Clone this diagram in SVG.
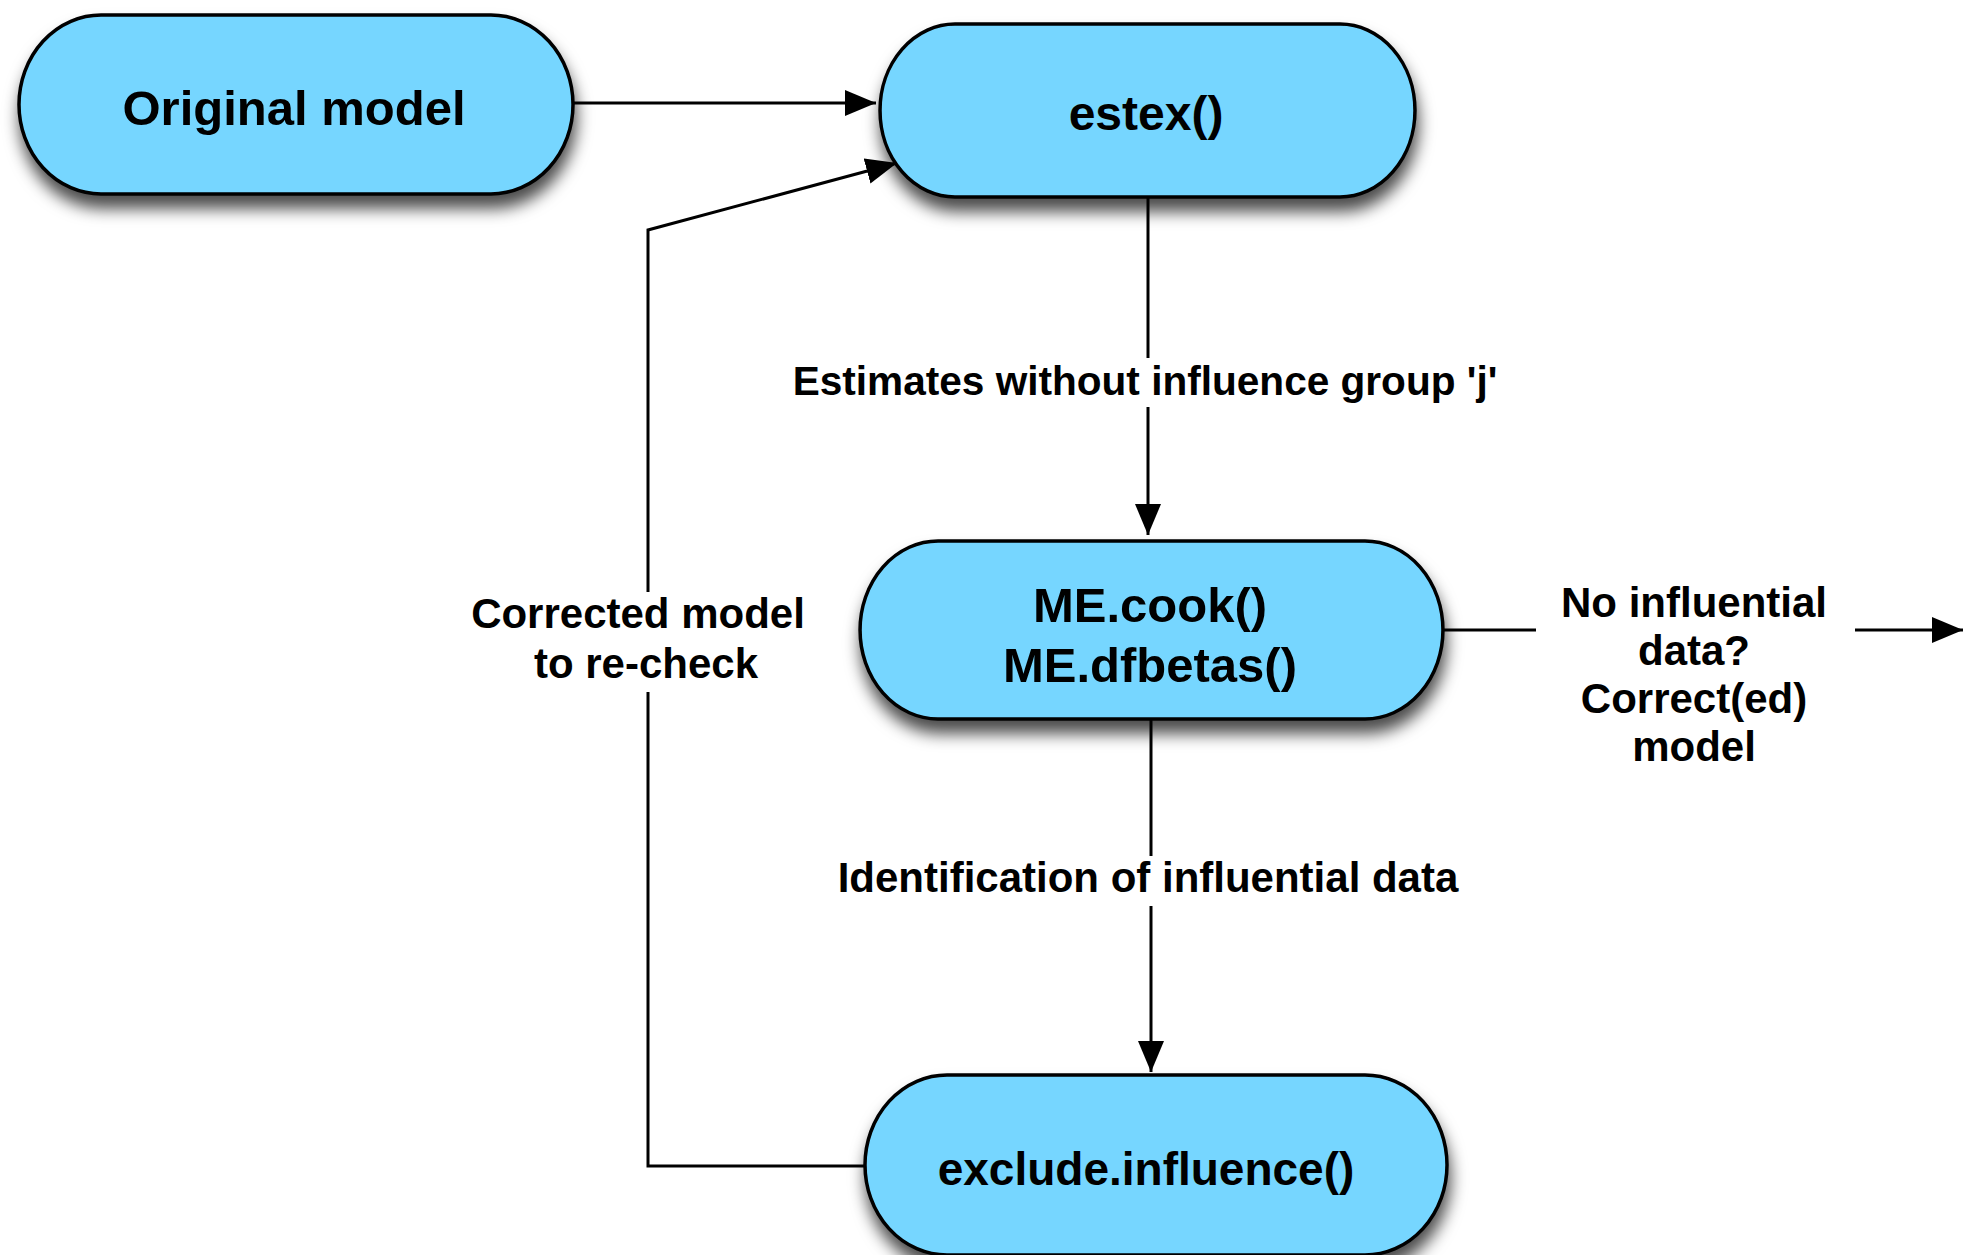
<svg xmlns="http://www.w3.org/2000/svg" width="1963" height="1255" viewBox="0 0 1963 1255">
<style>
.node{fill:#76D6FF;stroke:#000;stroke-width:3.5;filter:url(#sh)}
.nt{font-family:"Liberation Sans",Arial,Helvetica,sans-serif;font-weight:bold;font-size:49px;text-anchor:middle;fill:#000}
.et{font-family:"Liberation Sans",Arial,Helvetica,sans-serif;font-weight:bold;font-size:42px;text-anchor:middle;fill:#000}
.c{fill:none;stroke:#000;stroke-width:3}
</style>
<defs>
<filter id="sh" x="-10%" y="-20%" width="120%" height="150%">
<feDropShadow dx="2" dy="13" stdDeviation="8" flood-color="#000" flood-opacity="0.7"/>
</filter>
<marker id="ah" markerUnits="userSpaceOnUse" markerWidth="32" markerHeight="26" refX="31" refY="13" orient="auto">
<path d="M0,0 L31,13 L0,26 Z" fill="#000"/>
</marker>
</defs>
<rect width="1963" height="1255" fill="#fff"/>
<g id="connectors">
<path class="c" d="M573,103 H876" marker-end="url(#ah)"/>
<path class="c" d="M1148,197 V358"/>
<path class="c" d="M1148,407 V535" marker-end="url(#ah)"/>
<path class="c" d="M1151,719 V856"/>
<path class="c" d="M1151,906 V1072" marker-end="url(#ah)"/>
<path class="c" d="M1443,630 H1536"/>
<path class="c" d="M1855,630 H1963" marker-end="url(#ah)"/>
<path class="c" d="M865,1166 H648 V692"/>
<path class="c" d="M648,592 V230 L897,163" marker-end="url(#ah)"/>
<text class="et" x="1145" y="395" style="font-size:40.6px">Estimates without influence group 'j'</text>
<text class="et" x="1148" y="892">Identification of influential data</text>
<text class="et" x="638" y="628">Corrected model</text>
<text class="et" x="646" y="678">to re-check</text>
<text class="et" x="1694" y="617">No influential</text>
<text class="et" x="1694" y="665">data?</text>
<text class="et" x="1694" y="713">Correct(ed)</text>
<text class="et" x="1694" y="761">model</text>
</g>
<g id="node-original">
<path class="node" d="M101,15 H491 A82,89.5 0 0 1 491,194 H101 A82,89.5 0 0 1 101,15 Z"/>
<text class="nt" x="294" y="125">Original model</text>
</g>
<g id="node-estex">
<path class="node" d="M955,24 H1340 A75,86.5 0 0 1 1340,197 H955 A75,86.5 0 0 1 955,24 Z"/>
<text class="nt" x="1146" y="130" style="font-size:48px">estex()</text>
</g>
<g id="node-me">
<path class="node" d="M938,541 H1365 A78,89 0 0 1 1365,719 H938 A78,89 0 0 1 938,541 Z"/>
<text class="nt" x="1150" y="622">ME.cook()</text>
<text class="nt" x="1150" y="682">ME.dfbetas()</text>
</g>
<g id="node-exclude">
<path class="node" d="M947,1075 H1365 A82,90 0 0 1 1365,1255 H947 A82,90 0 0 1 947,1075 Z"/>
<text class="nt" x="1146" y="1185" style="font-size:46px">exclude.influence()</text>
</g>
</svg>
